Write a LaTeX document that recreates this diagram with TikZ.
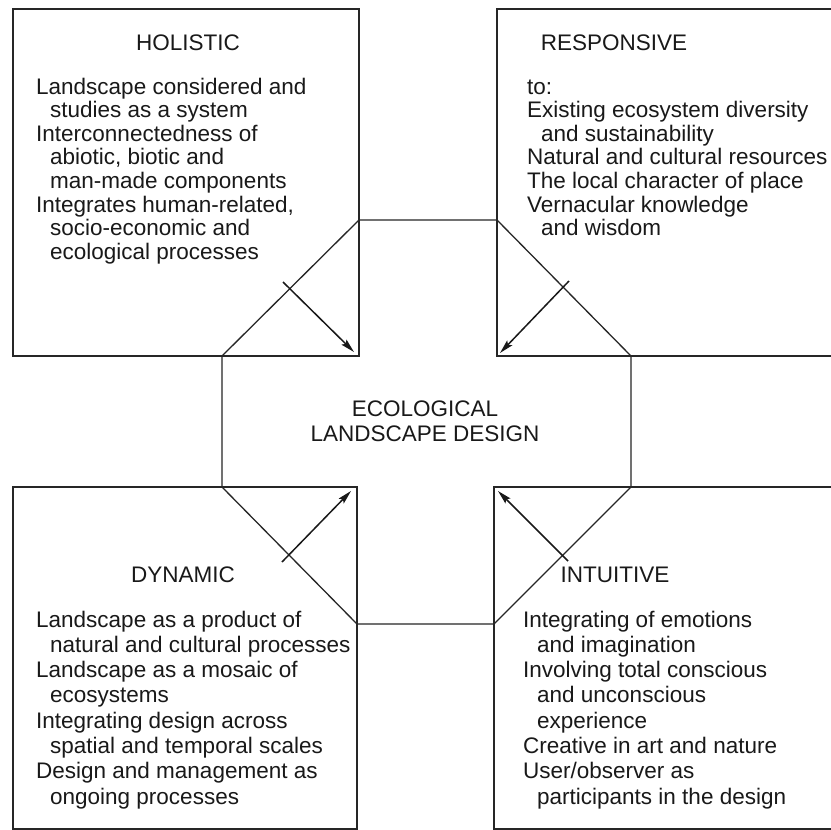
\documentclass[tikz,border=0pt]{standalone}
\usepackage{fontspec}
\setmainfont{Liberation Sans}
\usetikzlibrary{arrows.meta}
\newcommand\ind{\hspace*{14pt}}
\begin{document}
\begin{tikzpicture}[x=1pt,y=-1pt,
  frame/.style={draw=black!85, line width=1.3pt},
  ttl/.style={font=\fontsize{22.5}{26}\selectfont, text=black!90, inner sep=0pt, anchor=base},
  body/.style={font=\fontsize{22.5}{26}\selectfont, text=black!90, inner sep=0pt, anchor=base west},
  link/.style={draw=black!90, line width=1.5pt, -{Stealth[length=14pt,width=7pt,inset=2.5pt]}}]
\useasboundingbox (0,0) rectangle (831,830);
\fill[white] (0,0) rectangle (831,830);
\clip (0,0) rectangle (831,830);
% boxes
\draw[frame] (13,9) coordinate (tlA) rectangle (359,356) coordinate (tlB);
\draw[frame] (497,9) coordinate (trA) rectangle (850,356) coordinate (trB);
\draw[frame] (13,487) coordinate (blA) rectangle (357,829) coordinate (blB);
\draw[frame] (494,487) coordinate (brA) rectangle (850,829) coordinate (brB);
% octagon
\coordinate (o1) at (359,220);
\coordinate (o2) at (497,220);
\coordinate (o3) at (631,356);
\coordinate (o4) at (631,487);
\coordinate (o5) at (494,624);
\coordinate (o6) at (357,624);
\coordinate (o7) at (222,487);
\coordinate (o8) at (222,356);
\draw[frame] (o1) -- (o2) -- (o3) -- (o4) -- (o5) -- (o6) -- (o7) -- (o8) -- cycle;
% arrows
\coordinate (a1s) at (283,282); \coordinate (a1e) at (354,352);
\coordinate (a2s) at (569,281); \coordinate (a2e) at (500,353);
\coordinate (a3s) at (282,562); \coordinate (a3e) at (351,491);
\coordinate (a4s) at (568,561); \coordinate (a4e) at (498,491);
\draw[link] (a1s) -- (a1e);
\draw[link] (a2s) -- (a2e);
\draw[link] (a3s) -- (a3e);
\draw[link] (a4s) -- (a4e);
% titles
\node[ttl] (hol) at (188,50) {HOLISTIC};
\node[ttl] (res) at (614,50) {RESPONSIVE};
\node[ttl] (dyn) at (183,582) {DYNAMIC};
\node[ttl] (int) at (615,582) {INTUITIVE};
\node[ttl] (eco1) at (425,416) {ECOLOGICAL};
\node[ttl] (eco2) at (425,441) {LANDSCAPE DESIGN};
% bodies
\foreach \t [count=\i] in {{Landscape considered and},{\ind studies as a system},{Interconnectedness of},{\ind abiotic, biotic and},{\ind man-made components},{Integrates human-related,},{\ind socio-economic and},{\ind ecological processes}}
  \node[body] (tl\i) at (36,{94+23.6*(\i-1)}) {\t};
\foreach \t [count=\i] in {{to:},{Existing ecosystem diversity},{\ind and sustainability},{Natural and cultural resources},{The local character of place},{Vernacular knowledge},{\ind and wisdom}}
  \node[body] (tr\i) at (527,{94+23.6*(\i-1)}) {\t};
\foreach \t [count=\i] in {{Landscape as a product of},{\ind natural and cultural processes},{Landscape as a mosaic of},{\ind ecosystems},{Integrating design across},{\ind spatial and temporal scales},{Design and management as},{\ind ongoing processes}}
  \node[body] (bl\i) at (36,{627+25.3*(\i-1)}) {\t};
\foreach \t [count=\i] in {{Integrating of emotions},{\ind and imagination},{Involving total conscious},{\ind and unconscious},{\ind experience},{Creative in art and nature},{User/observer as},{\ind participants in the design}}
  \node[body] (br\i) at (523,{627+25.3*(\i-1)}) {\t};
\end{tikzpicture}
\end{document}
